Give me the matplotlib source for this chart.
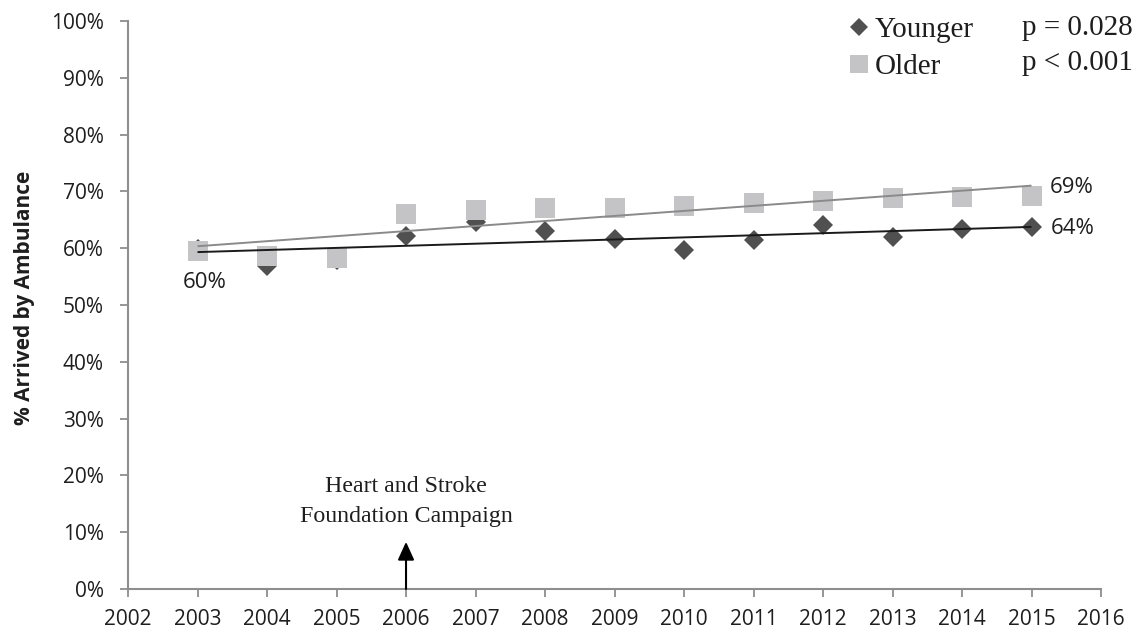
import numpy as np
import matplotlib
matplotlib.use("Agg")
import matplotlib.pyplot as plt
from matplotlib.lines import Line2D

# Share of patients arriving by ambulance, by year and age group (%)
years = [2003, 2004, 2005, 2006, 2007, 2008, 2009, 2010, 2011, 2012, 2013, 2014, 2015]
younger = [59.8, 56.8, 58.0, 62.1, 64.6, 63.1, 61.6, 59.6, 61.4, 64.0, 61.9, 63.3, 63.7]
older = [59.5, 58.6, 58.2, 66.1, 66.8, 67.0, 67.0, 67.4, 67.9, 68.3, 68.8, 69.0, 69.2]
series_names = ["Younger", "Older"]
p_values = ["p = 0.028", "p < 0.001"]
x_ticks = list(range(2002, 2017))
y_ticks = list(range(0, 101, 10))
campaign_year = 2006
campaign_text = "Heart and Stroke\nFoundation Campaign"

SANS = "Open Sans"
SERIF = "Liberation Serif"
DARK = "#505050"
LIGHT = "#c4c4c6"
AXIS = "#8e8e8e"
TEXT = "#1e1e1e"

fig = plt.figure(figsize=(11.34, 6.34), dpi=100)
ax = fig.add_axes([0.1129, 0.0710, 0.8580, 0.8959])

yrs = np.array(years, dtype=float)
y_young = np.array(younger)
y_old = np.array(older)

# data markers: older squares sit on top of the younger diamonds
ax.plot(yrs, y_young, linestyle="none", marker="D", markersize=10.4,
        color=DARK, markeredgewidth=0, zorder=3)
ax.plot(yrs, y_old, linestyle="none", marker="s", markersize=14.4,
        color=LIGHT, markeredgewidth=0, zorder=4)

# least-squares trend lines
for vals, col in ((y_old, "#8a8a8a"), (y_young, "#1a1a1a")):
    k, b = np.polyfit(yrs, vals, 1)
    ax.plot([yrs[0], yrs[-1]], [k * yrs[0] + b, k * yrs[-1] + b],
            color=col, lw=1.4, zorder=5, solid_capstyle="butt")

# value labels at the start and end of the period
ax.annotate(f"{y_young[0]:.0f}%", xy=(yrs[0], y_young[0]), xytext=(5, -24),
            textcoords="offset points", ha="center", va="center",
            fontsize=16, family=SANS, color=TEXT)
ax.annotate(f"{y_old[-1]:.0f}%", xy=(yrs[-1], y_old[-1]), xytext=(13, 6),
            textcoords="offset points", ha="left", va="center",
            fontsize=16, family=SANS, color=TEXT)
ax.annotate(f"{y_young[-1]:.0f}%", xy=(yrs[-1], y_young[-1]), xytext=(14, -1),
            textcoords="offset points", ha="left", va="center",
            fontsize=16, family=SANS, color=TEXT)

# campaign marker
ax.annotate("", xy=(campaign_year, 8.3), xytext=(campaign_year, 0),
            arrowprops=dict(arrowstyle="-|>,head_length=1.1,head_width=0.5",
                            mutation_scale=10, lw=1.5, color="black",
                            shrinkA=0, shrinkB=0), zorder=6)
ax.text(campaign_year, 15.4, campaign_text, ha="center", va="center",
        fontsize=17.2, family=SERIF, color=TEXT, linespacing=1.6)

# axes styling
ax.set_xlim(x_ticks[0], x_ticks[-1])
ax.set_ylim(0, 100)
ax.set_xticks(x_ticks)
ax.set_xticklabels([str(t) for t in x_ticks])
ax.set_yticks(y_ticks)
ax.set_yticklabels([f"{t}%" for t in y_ticks])
for s in ("top", "right"):
    ax.spines[s].set_visible(False)
for s in ("left", "bottom"):
    ax.spines[s].set_color(AXIS)
    ax.spines[s].set_linewidth(1.5)
ax.tick_params(axis="both", direction="out", length=5.5, width=1.3,
               color=AXIS, labelsize=15, labelcolor=TEXT)
ax.tick_params(axis="y", pad=12)
ax.tick_params(axis="x", pad=9)
for lab in ax.get_xticklabels() + ax.get_yticklabels():
    lab.set_family(SANS)

fig.text(25 / 1134, 1 - 298 / 634, "% Arrived by Ambulance", rotation=90,
         ha="center", va="center", fontsize=15, family=SANS,
         fontweight="bold", color=TEXT)

# legend with p-values
handles = [
    Line2D([], [], linestyle="none", marker="D", markersize=9, color=DARK,
           markeredgewidth=0),
    Line2D([], [], linestyle="none", marker="s", markersize=13, color=LIGHT,
           markeredgewidth=0),
]
leg = fig.legend(handles, series_names, loc="upper left",
                 bbox_to_anchor=(850 / 1134, 1 - 17 / 634), frameon=False,
                 prop={"family": SERIF, "size": 21}, handlelength=0.6,
                 handletextpad=0.25, labelspacing=0.35, borderaxespad=0,
                 borderpad=0)
for t in leg.get_texts():
    t.set_color(TEXT)
for i, p in enumerate(p_values):
    fig.text(1022 / 1134, 1 - (28 + 35 * i) / 634, p, ha="left", va="center",
             fontsize=21, family=SERIF, color=TEXT)

fig.savefig("out.png", dpi=100)
